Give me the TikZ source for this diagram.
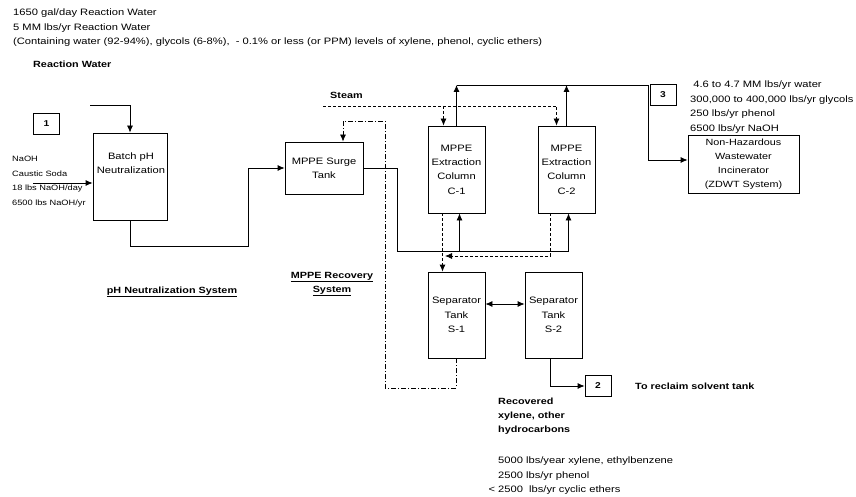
\documentclass[tikz,border=0pt]{standalone}
\usepackage{fontspec}
\setmainfont{Liberation Sans}[FakeStretch=1.2]
\usetikzlibrary{arrows.meta,positioning}

\tikzset{
  unit/.style={draw,line width=.8pt,align=center,font=\fontsize{9.3}{14.3}\selectfont},
  tagbox/.style={draw,line width=.8pt,minimum width=26pt,minimum height=21pt,font=\fontsize{8.5}{11}\selectfont\bfseries},
  note/.style={align=left,anchor=west,inner sep=0pt,font=\fontsize{9.3}{14.4}\selectfont},
  head/.style={inner sep=0pt,font=\fontsize{9}{14}\selectfont\bfseries},
  flow/.style={line width=.8pt},
  steamline/.style={line width=.8pt,dash pattern=on 3pt off 2pt},
  recline/.style={line width=.8pt,dash pattern=on 5pt off 2pt on 1pt off 2pt}
}

\begin{document}
\begin{tikzpicture}[x=1pt,y=-1pt,>={Latex[length=7pt,width=6pt]}]
  \useasboundingbox[fill=white] (0,0) rectangle (856,497);

  % header notes
  \node[note,anchor=north west] at (13,9) {1650 gal/day Reaction Water\\5 MM lbs/yr Reaction Water\\(Containing water (92-94\%), glycols (6-8\%), \ - 0.1\% or less (or PPM) levels of xylene, phenol, cyclic ethers)};
  \node[head,anchor=west] at (33,64) {Reaction Water};

  % units
  \node[tagbox] (tag1) at (46.5,123.5) {1};
  \node[unit,minimum width=74pt,minimum height=87pt] (batch) at (130,176.5) {};
  \node[font=\fontsize{9.3}{14.3}\selectfont,align=center] at (131,163) {Batch pH\\Neutralization};
  \node[unit,minimum width=78pt,minimum height=52pt] (surge) at (324,168) {MPPE Surge\\Tank};
  \node[unit,minimum width=57pt,minimum height=87pt] (c1) at (456.5,169.5) {MPPE\\Extraction\\Column\\C-1};
  \node[unit,minimum width=57pt,minimum height=87pt] (c2) at (566.5,169.5) {MPPE\\Extraction\\Column\\C-2};
  \node[unit,minimum width=57pt,minimum height=86pt] (s1) at (456.5,315) {Separator\\Tank\\S-1};
  \node[unit,minimum width=57pt,minimum height=86pt] (s2) at (553.5,315) {Separator\\Tank\\S-2};
  \node[tagbox] (tag2) at (598,386) {2};
  \node[tagbox] (tag3) at (663,95) {3};
  \node[unit,minimum width=111pt,minimum height=58pt,font=\fontsize{9}{14.2}\selectfont] (incin) at (743.5,164) {Non-Hazardous\\Wastewater\\Incinerator\\(ZDWT System)};

  % free ends and bends
  \coordinate (rw) at (90,105);
  \coordinate (naoh) at (33,183);
  \coordinate (low) at (248,246);
  \coordinate (feed) at (397,251);
  \coordinate (top) at (648,85);
  \coordinate (steam) at (323,106);
  \coordinate (ret) at (445,256);
  \coordinate (rbot) at (385,388);
  \coordinate (rtop) at (343,121);

  % process flows
  \draw[flow,->] (rw) -| (batch.north);
  \draw[flow,->] (naoh) -- (naoh -| batch.west);
  \draw[flow,->] (batch.south) |- (low) |- (surge.west);
  \draw[flow] (surge.east) -| (feed);
  \draw[flow,->] (feed) -| ([xshift=3pt]c1.south);
  \draw[flow,->] (feed) -| ([xshift=2pt]c2.south);
  \draw[flow,->] (c1.north) -- (c1.north |- top);
  \draw[flow,->] (c2.north) -- (c2.north |- top);
  \draw[flow,->] (c1.north |- top) -- (top) |- ([yshift=4pt]incin.west);
  \draw[flow,<->] ([yshift=11pt]s1.east) -- ([yshift=11pt]s2.west);
  \draw[flow,->] ([xshift=-3pt]s2.south) |- (tag2.west);

  % steam and solvent return
  \draw[steamline,->] (steam) -| ([xshift=-10pt]c2.north);
  \draw[steamline,->] ([xshift=-13pt]c1.north |- steam) -- ([xshift=-13pt]c1.north);
  \draw[steamline,->] ([xshift=-14pt]c1.south) -- ([xshift=-14pt]s1.north);
  \draw[steamline,->] ([xshift=-16pt]c2.south) |- (ret);
  \draw[recline,->] (s1.south) |- (rbot) |- (rtop) -- (rtop |- surge.north);

  % labels
  \node[note,font=\fontsize{7.7}{14.6}\selectfont,anchor=north west] at (12,156) {NaOH\\Caustic Soda\\18 lbs NaOH/day\\6500 lbs NaOH/yr};
  \node[head] at (172,292) {\underline{pH Neutralization System}};
  \node[head,anchor=west] at (330,95) {Steam};
  \node[head,align=center] at (332,284) {\underline{MPPE Recovery}\\\underline{System}};
  \node[note,anchor=north west] at (690,81) {\ 4.6 to 4.7 MM lbs/yr water\\300,000 to 400,000 lbs/yr glycols\\250 lbs/yr phenol\\6500 lbs/yr NaOH};
  \node[head,anchor=west] at (635,386) {To reclaim solvent tank};
  \node[head,anchor=north west,align=left] at (498,398) {Recovered\\xylene, other\\hydrocarbons};
  \node[note,anchor=north west] at (498,457) {5000 lbs/year xylene, ethylbenzene\\2500 lbs/yr phenol\\\llap{< }2500 \ lbs/yr cyclic ethers};
\end{tikzpicture}
\end{document}
